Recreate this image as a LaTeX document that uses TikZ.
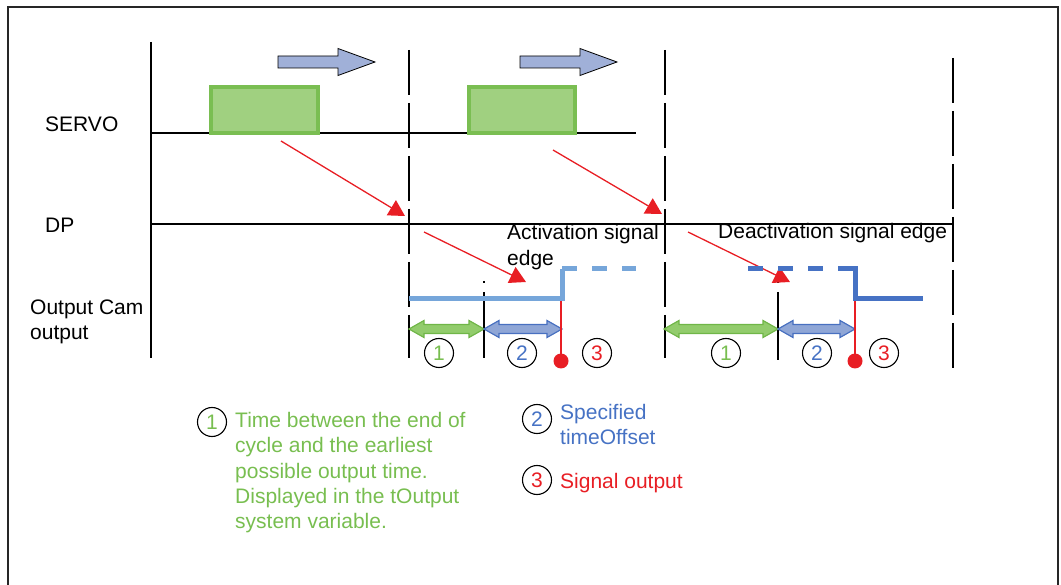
\documentclass[tikz,border=0pt]{standalone}
\usepackage{fontspec}
\setmainfont{Liberation Sans}
\usetikzlibrary{arrows.meta,calc}

\definecolor{servogreen}{RGB}{160,208,128}
\definecolor{servoedge}{RGB}{122,190,82}
\definecolor{txtgreen}{RGB}{120,190,80}
\definecolor{spangreen}{RGB}{146,204,108}
\definecolor{spangreenedge}{RGB}{112,182,72}
\definecolor{spanblue}{RGB}{143,166,214}
\definecolor{spanblueedge}{RGB}{72,112,192}
\definecolor{sigblue}{RGB}{70,114,196}
\definecolor{sigltblue}{RGB}{118,166,218}
\definecolor{cycblue}{RGB}{160,176,216}
\definecolor{edgered}{RGB}{232,30,36}

% horizontal double-headed block arrow between two named points
\newcommand\spanarrow[3]{%
  \filldraw[#3] let \p1=(#1), \p2=(#2) in
    (\x1,\y1) -- (\x1+15pt,\y1+8.5pt) -- (\x1+15pt,\y1+4.5pt)
    -- (\x2-15pt,\y1+4.5pt) -- (\x2-15pt,\y1+8.5pt) -- (\x2,\y1)
    -- (\x2-15pt,\y1-8.5pt) -- (\x2-15pt,\y1-4.5pt)
    -- (\x1+15pt,\y1-4.5pt) -- (\x1+15pt,\y1-8.5pt) -- cycle;}
% right-pointing block arrow between two named points
\newcommand\flowarrow[2]{%
  \filldraw[fill=cycblue, draw=black, line width=0.8pt] let \p1=(#1), \p2=(#2) in
    (\x1,\y1+6pt) -- (\x2-37pt,\y1+6pt) -- (\x2-37pt,\y1+13.5pt) -- (\x2,\y1)
    -- (\x2-37pt,\y1-13.5pt) -- (\x2-37pt,\y1-6pt) -- (\x1,\y1-6pt) -- cycle;}

\tikzset{
  frameline/.style={line width=1.5pt, black!85},
  axis/.style={line width=2.6pt},
  cycleline/.style={line width=2.6pt, dash pattern=on 45pt off 8pt},
  subline/.style={line width=2pt, dash pattern=on 2pt off 9pt on 90pt},
  track/.style={line width=1.4pt},
  busy/.style={draw=servoedge, fill=servogreen, line width=4pt},
  cause/.style={edgered, line width=1.3pt, -{Triangle[length=16pt,width=17.5pt]}},
  outlt/.style={sigltblue, line width=5pt},
  outdk/.style={sigblue, line width=5pt},
  dashsig/.style={dash pattern=on 15pt off 15pt},
  trigger/.style={edgered, line width=2pt},
  dot/.style={circle, fill=edgered, inner sep=0pt, minimum size=15pt},
  num/.style={circle, draw, line width=1.1pt, inner sep=0pt, minimum size=29pt,
    font=\fontsize{21}{25}\selectfont},
  lbl/.style={anchor=base west, inner sep=0pt, font=\fontsize{21}{25}\selectfont},
  greenspan/.style={fill=spangreen, draw=spangreenedge, line width=1.2pt},
  bluespan/.style={fill=spanblue, draw=spanblueedge, line width=1.2pt}
}

\begin{document}
\begin{tikzpicture}[x=1pt,y=-1pt]
\useasboundingbox (0,0) rectangle (1061,585);

% outer frame
\coordinate (fbl) at (8,585);
\coordinate (ftl) at (8,7);
\coordinate (ftr) at (1058,7);
\coordinate (fbr) at (1058,585);
\draw[frameline] (fbl) -- (ftl) -- (ftr) -- (fbr);

% time axis marks
\coordinate (a0t) at (151,42);  \coordinate (a0b) at (151,358);
\coordinate (a1t) at (409,50);  \coordinate (a1b) at (409,358);
\coordinate (a2t) at (665,50);  \coordinate (a2b) at (665,358);
\coordinate (a3t) at (953,58);  \coordinate (a3b) at (953,368);
\coordinate (s1t) at (484,281); \coordinate (s1b) at (484,358);
\coordinate (s2t) at (778,281); \coordinate (s2b) at (778,360);
\draw[axis] (a0t) -- (a0b);
\draw[cycleline] (a1t) -- (a1b);
\draw[cycleline] (a2t) -- (a2b);
\draw[cycleline] (a3t) -- (a3b);
\draw[subline] (s1t) -- (s1b);
\draw[subline] (s2t) -- (s2b);

% SERVO and DP tracks
\coordinate (servoL) at (151,133); \coordinate (servoR) at (636,133);
\coordinate (dpL) at (151,224);    \coordinate (dpR) at (953,224);
\draw[track] (servoL) -- (servoR);
\draw[track] (dpL) -- (dpR);

% servo computation blocks
\draw[busy] (211,87) rectangle (318,133);
\draw[busy] (469,87) rectangle (575,133);

% cycle direction arrows
\coordinate (f1a) at (278,62); \coordinate (f1b) at (375,62);
\coordinate (f2a) at (520,62); \coordinate (f2b) at (617,62);
\flowarrow{f1a}{f1b}
\flowarrow{f2a}{f2b}

% transfer arrows
\coordinate (r1a) at (281,141); \coordinate (r1b) at (405,216);
\coordinate (r2a) at (553,150); \coordinate (r2b) at (662,214);
\coordinate (r3a) at (424,232); \coordinate (r3b) at (526,282);
\coordinate (r4a) at (688,232); \coordinate (r4b) at (790,282);
\draw[cause] (r1a) -- (r1b);
\draw[cause] (r2a) -- (r2b);
\draw[cause] (r3a) -- (r3b);
\draw[cause] (r4a) -- (r4b);

% time spans
\coordinate (g1a) at (409,329); \coordinate (g1b) at (484,329);
\coordinate (b1a) at (484,329); \coordinate (b1b) at (562,329);
\coordinate (g2a) at (664,329); \coordinate (g2b) at (778,329);
\coordinate (b2a) at (778,329); \coordinate (b2b) at (855,329);
\spanarrow{g1a}{g1b}{greenspan}
\spanarrow{b1a}{b1b}{bluespan}
\spanarrow{g2a}{g2b}{greenspan}
\spanarrow{b2a}{b2b}{bluespan}

% cam output: activation
\coordinate (o1) at (409,299); \coordinate (o2) at (562,299);
\coordinate (o3) at (562,269); \coordinate (o4) at (636,269);
\draw[outlt] (o1) -- (o2) -- (o3);
\draw[outlt, dashsig] (o3) -- (o4);
% cam output: deactivation
\coordinate (d1) at (748,269); \coordinate (d2) at (853,269);
\coordinate (d3) at (838,269); \coordinate (d4) at (855,269);
\coordinate (d5) at (855,299); \coordinate (d6) at (923,299);
\draw[outdk, dashsig] (d1) -- (d2);
\draw[outdk] (d3) -- (d4) -- (d5) -- (d6);

% signal output instants
\node[dot] (p1) at (561,361) {};
\node[dot] (p2) at (855,361) {};
\coordinate (q1) at (561,301);
\coordinate (q2) at (855,301);
\draw[trigger] (q1) -- (p1.center);
\draw[trigger] (q2) -- (p2.center);

% numbered markers
\node[num, text=txtgreen] (n1a) at (439,353) {1};
\node[num, text=sigblue]  (n2a) at (522,353) {2};
\node[num, text=edgered]  (n3a) at (597,353) {3};
\node[num, text=txtgreen] (n1b) at (726,353) {1};
\node[num, text=sigblue]  (n2b) at (817,353) {2};
\node[num, text=edgered]  (n3b) at (884,353) {3};

% track labels
\node[lbl] (servo) at (45,132) {SERVO};
\node[lbl] (dp) at (45,233) {DP};
\node[lbl] (cam1) at (30,315) {Output Cam};
\node[lbl] (cam2) at (30,340) {output};
\node[lbl] (act1) at (507,240) {Activation signal};
\node[lbl] (act2) at (507,266) {edge};
\node[lbl] (deact) at (718,239) {Deactivation signal edge};

% legend
\node[num, text=txtgreen] (k1) at (212,422) {1};
\node[lbl, text=txtgreen] (k1a) at (235,428) {Time between the end of};
\node[lbl, text=txtgreen] (k1b) at (235,453) {cycle and the earliest};
\node[lbl, text=txtgreen] (k1c) at (235,478) {possible output time.};
\node[lbl, text=txtgreen] (k1d) at (235,503) {Displayed in the tOutput};
\node[lbl, text=txtgreen] (k1e) at (235,528) {system variable.};
\node[num, text=sigblue] (k2) at (537,419) {2};
\node[lbl, text=sigblue] (k2a) at (560,420) {Specified};
\node[lbl, text=sigblue] (k2b) at (560,445) {timeOffset};
\node[num, text=edgered] (k3) at (537,480) {3};
\node[lbl, text=edgered] (k3a) at (560,488) {Signal output};
\end{tikzpicture}
\end{document}
